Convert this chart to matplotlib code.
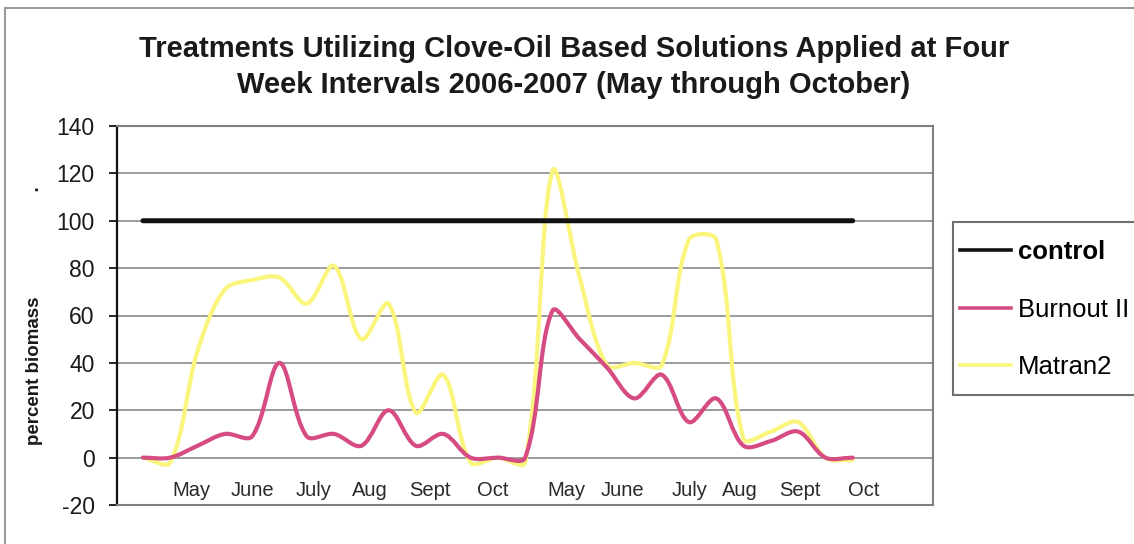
import numpy as np
import matplotlib
matplotlib.use("Agg")
import matplotlib.pyplot as plt
from matplotlib.path import Path
from matplotlib.patches import PathPatch, Rectangle
from matplotlib.lines import Line2D

plt.rcParams['font.family'] = ['Liberation Sans', 'DejaVu Sans']
plt.rcParams['axes.unicode_minus'] = False

# sampling points, two seasons (May - October 2006 / 2007), about every two weeks
idx = list(range(27))

control = [100, 100, 100, 100, 100, 100, 100, 100, 100, 100, 100, 100, 100, 100,
           100, 100, 100, 100, 100, 100, 100, 100, 100, 100, 100, 100, 100]
burnout = [0, 0, 5, 10, 9, 40, 9, 10, 5, 20, 5, 10, 0, 0,
           0, 62, 50, 38, 25, 35, 15, 25, 5, 7, 11, 0, 0]
matran = [0, -2, 45, 71, 75, 76, 65, 81, 50, 65, 19, 35, -2, 0,
          -2, 121, 76, 39, 40, 39, 92, 92, 8, 11, 15, 0, -1]

series_names = ['control', 'Burnout II', 'Matran2']
series_colors = ['#111111', '#D64C82', '#FAF57C']

month_labels = ['May', 'June', 'July', 'Aug', 'Sept', 'Oct',
                'May', 'June', 'July', 'Aug', 'Sept', 'Oct']
month_pos = [1.76, 4.01, 6.26, 8.32, 10.51, 12.82,
             15.53, 17.55, 20.04, 21.87, 24.07, 26.39]

y_ticks = [-20, 0, 20, 40, 60, 80, 100, 120, 140]


def smooth_path(xs, ys, sx, sy):
    # excel-like smoothed line: bezier segments, tangents weighted by
    # the on-screen chord lengths (sx, sy = pixels per data unit)
    pts = np.column_stack([xs, ys]).astype(float)
    scr = pts * [sx, sy]
    n = len(pts)
    verts = [pts[0]]
    codes = [Path.MOVETO]
    for i in range(n - 1):
        a, b, c, d = max(i - 1, 0), i, i + 1, min(i + 2, n - 1)
        d01 = np.hypot(*(scr[b] - scr[a]))
        d12 = np.hypot(*(scr[c] - scr[b]))
        d23 = np.hypot(*(scr[d] - scr[c]))
        f1 = d12 / (d01 + d12) / 3 if d01 + d12 > 0 else 0
        f2 = d12 / (d12 + d23) / 3 if d12 + d23 > 0 else 0
        c1 = pts[b] + (pts[c] - pts[a]) * f1
        c2 = pts[c] - (pts[d] - pts[b]) * f2
        verts += [c1, c2, pts[c]]
        codes += [Path.CURVE4] * 3
    return Path(verts, codes)


W, H = 1134, 544
fig = plt.figure(figsize=(W / 100, H / 100), dpi=100)
ax = fig.add_axes([117 / W, 1 - 505 / H, 816 / W, 379 / H])

# chart area border (only top / left visible in the crop)
fig.patches.append(Rectangle((5 / W, -0.5), 2, 1.5 - 8 / H, transform=fig.transFigure,
                             fill=False, edgecolor='#9a9a9a', lw=1.5))

x0, x1 = -0.95, 28.94
y0, y1 = -20, 140
ax.set_xlim(x0, x1)
ax.set_ylim(y0, y1)
ax.set_yticks(y_ticks)
ax.set_xticks([])
ax.yaxis.grid(True, color='#8a8a8a', lw=1.2)
ax.set_axisbelow(True)

for s in ['top', 'right', 'bottom']:
    ax.spines[s].set_color('#808080')
    ax.spines[s].set_linewidth(1.5)
ax.spines['left'].set_color('#111111')
ax.spines['left'].set_linewidth(1.6)
ax.tick_params(axis='y', length=6, width=1.2, pad=10, labelsize=16.5, labelcolor='#1a1a1a')

sx = ax.bbox.width / (x1 - x0)
sy = ax.bbox.height / (y1 - y0)
widths = [3.6, 3.0, 3.0]
zorders = [2.7, 2.6, 2.5]
for vals, c, lw, z in zip([control, burnout, matran], series_colors, widths, zorders):
    ax.add_patch(PathPatch(smooth_path(idx, vals, sx, sy), facecolor='none', edgecolor=c,
                           lw=lw, capstyle='round', joinstyle='round', zorder=z))

for lab, p in zip(month_labels, month_pos):
    ax.text(p, -14, lab, ha='center', va='center', fontsize=14.5, color='#2a2a2a')

ax.set_ylabel('percent biomass                    .', fontsize=13.5, fontweight='bold',
              color='#1a1a1a')
ax.yaxis.set_label_coords(-0.0907, 0.5)

fig.text(574 / W, 1 - 35 / H,
         'Treatments Utilizing Clove-Oil Based Solutions Applied at Four\n'
         'Week Intervals 2006-2007 (May through October)',
         ha='center', va='top', fontsize=21, fontweight='bold', color='#1a1a1a',
         linespacing=1.35)

# legend: frame drawn separately so it can run off the right edge like the original
fig.patches.append(Rectangle((953 / W, 1 - 395 / H), 0.3, 173 / H, transform=fig.transFigure,
                             facecolor='white', edgecolor='#707070', lw=1.5))
handles = [Line2D([], [], color=c, lw=2.6) for c in series_colors]
leg = fig.legend(handles, series_names, loc='upper left',
                 bbox_to_anchor=(960 / W, 1 - 240 / H), fontsize=18.5,
                 frameon=False, handlelength=2.0, handletextpad=0.25,
                 labelspacing=1.31, borderpad=0, borderaxespad=0)
leg.get_texts()[0].set_fontweight('bold')

fig.savefig('out.png', dpi=100)
